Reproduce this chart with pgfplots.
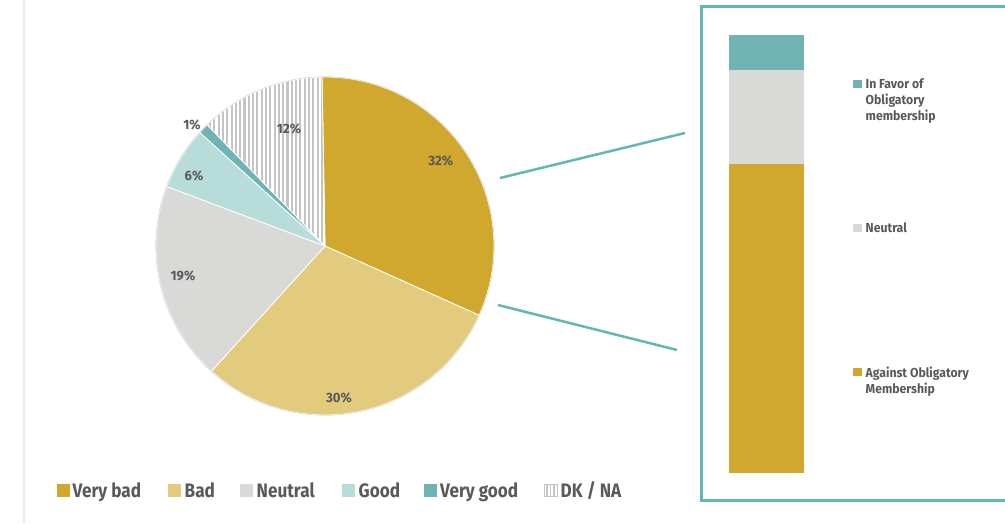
\documentclass[border=0pt]{standalone}
\usepackage{pgfplots}
\pgfplotsset{compat=1.18}
\usepackage{fontspec}
\setmainfont{Fira Sans}
\newfontfamily\fpie{Fira Sans}[FakeStretch=0.97]
\newfontfamily\fleg{Fira Sans}[FakeStretch=0.88]
\newfontfamily\fright{Fira Sans}[FakeStretch=0.94]
\definecolor{cVB}{RGB}{208,168,45}
\definecolor{cB}{RGB}{227,203,126}
\definecolor{cN}{RGB}{217,217,216}
\definecolor{cG}{RGB}{184,220,218}
\definecolor{cVG}{RGB}{111,180,178}
\definecolor{cTeal}{RGB}{97,184,179}
\definecolor{cTxt}{RGB}{89,89,89}
\definecolor{cStripe}{RGB}{196,196,196}
\definecolor{cLeft}{RGB}{235,235,235}
\tikzset{
  slVB/.style={fill=cVB},
  slB/.style={fill=cB},
  slN/.style={fill=cN},
  slG/.style={fill=cG},
  slVG/.style={fill=cVG},
  lbl/.style={text=cTxt,font=\fpie\fontsize{13.5pt}{15pt}\selectfont\bfseries,inner sep=0pt},
  leg/.style={text=cTxt,font=\fleg\fontsize{19.5pt}{22pt}\selectfont\bfseries,inner sep=0pt},
  legr/.style={text=cTxt,font=\fright\fontsize{13pt}{16pt}\selectfont\bfseries,inner sep=0pt},
}
\def\cur{91}
\newcommand\slice[2]{%
  \pgfmathsetmacro\nxt{\cur-3.6*#1}%
  \edef\tmp{\noexpand\path[#2,draw=white,line width=0.8pt] (axis cs:325,277) -- ++(\cur:169pt) arc[start angle=\cur,end angle=\nxt,radius=169pt] -- cycle;}%
  \tmp
  \global\let\cur\nxt}
\newcommand\stripeslice[1]{%
  \pgfmathsetmacro\nxt{\cur-3.6*#1}%
  \edef\tmp{\noexpand\fill[white] (axis cs:325,277) -- ++(\cur:169pt) arc[start angle=\cur,end angle=\nxt,radius=169pt] -- cycle;
    \noexpand\begin{scope}
    \noexpand\clip (axis cs:325,277) -- ++(\cur:169pt) arc[start angle=\cur,end angle=\nxt,radius=169pt] -- cycle;
    \noexpand\draw[cStripe,line width=2.1pt] \noexpand\foreach \noexpand\xx in {158.5,162.8,...,335}{(axis cs:\noexpand\xx,100) -- (axis cs:\noexpand\xx,460)};
    \noexpand\end{scope}
    \noexpand\draw[white,line width=0.8pt] (axis cs:325,277) -- ++(\cur:169pt) arc[start angle=\cur,end angle=\nxt,radius=169pt] -- cycle;}%
  \tmp
  \global\let\cur\nxt}
\begin{document}
\begin{tikzpicture}
\begin{axis}[at={(0pt,0pt)},anchor=origin,x=1pt,y=1pt,xmin=0,xmax=1005,ymin=0,ymax=523,hide axis,clip=false]
% left rule
\draw[cLeft,line width=2pt] (axis cs:24,0) -- (axis cs:24,523);
% pie: Very bad, Bad, Neutral, Good, Very good, DK/NA (percent)
\slice{32}{slVB}
\slice{30}{slB}
\slice{19}{slN}
\slice{6}{slG}
\slice{1}{slVG}
\stripeslice{12}
\draw[cN,line width=0.6pt] (axis cs:325,277) circle[radius=169.3pt];
% pie labels
\node[lbl] at (axis cs:440.8,361.8) {32\%};
\node[lbl] at (axis cs:339,125) {30\%};
\node[lbl] at (axis cs:183,247) {19\%};
\node[lbl] at (axis cs:194,347) {6\%};
\node[lbl] at (axis cs:192,398) {1\%};
\node[lbl] at (axis cs:289,394) {12\%};
% connectors and box
\draw[cTeal,line width=2.5pt] (axis cs:500,345) -- (axis cs:685,390);
\draw[cTeal,line width=2.5pt] (axis cs:498,218) -- (axis cs:677,173);
\draw[cTeal,line width=3pt] (axis cs:701,23) rectangle (axis cs:1015,516);
% right legend
\fill[cVG] (axis cs:853,434.5) rectangle (axis cs:862,443);
\node[legr,anchor=base west] at (axis cs:865.5,434) {In Favor of};
\node[legr,anchor=base west] at (axis cs:865.5,418) {Obligatory};
\node[legr,anchor=base west] at (axis cs:865.5,402) {membership};
\fill[cN] (axis cs:853,290.5) rectangle (axis cs:862,299);
\node[legr,anchor=base west] at (axis cs:865.5,290) {Neutral};
\fill[cVB] (axis cs:853,147) rectangle (axis cs:862,155.5);
\node[legr,anchor=base west] at (axis cs:865.5,146) {Against Obligatory};
\node[legr,anchor=base west] at (axis cs:865.5,130) {Membership};
% bottom legend
\fill[cVB] (axis cs:57,26.3) rectangle (axis cs:69.5,38.7);
\node[leg,anchor=base west] at (axis cs:72.5,25.3) {Very bad};
\fill[cB] (axis cs:168,26.3) rectangle (axis cs:180.5,38.7);
\node[leg,anchor=base west] at (axis cs:184.5,25.3) {Bad};
\fill[cN] (axis cs:240,26.3) rectangle (axis cs:252.5,38.7);
\node[leg,anchor=base west] at (axis cs:256.5,25.3) {Neutral};
\fill[cG] (axis cs:342,26.3) rectangle (axis cs:354.5,38.7);
\node[leg,anchor=base west] at (axis cs:358.5,25.3) {Good};
\fill[cVG] (axis cs:424,26.3) rectangle (axis cs:436.5,38.7);
\node[leg,anchor=base west] at (axis cs:440,25.3) {Very good};
\fill[white] (axis cs:544,26.3) rectangle (axis cs:557,38.7);
\draw[cStripe,line width=1.6pt] (axis cs:547.2,26.3) -- (axis cs:547.2,38.7) (axis cs:550.5,26.3) -- (axis cs:550.5,38.7) (axis cs:553.8,26.3) -- (axis cs:553.8,38.7);
\draw[cStripe,line width=1pt] (axis cs:544,26.3) rectangle (axis cs:557,38.7);
\node[leg,anchor=base west] at (axis cs:560.5,25.3) {DK / NA};
\end{axis}
% stacked bar: Against, Neutral, In favor (percent)
\begin{axis}[at={(729pt,50pt)},anchor=south west,width=75pt,height=438pt,scale only axis,hide axis,
  xmin=-0.5,xmax=0.5,ymin=0,ymax=100,ybar stacked,bar width=75pt,bar shift=0pt]
\addplot[fill=cVB,draw=none] coordinates {(0,70.5)};
\addplot[fill=cN,draw=none] coordinates {(0,21.5)};
\addplot[fill=cVG,draw=none] coordinates {(0,8)};
\end{axis}
\pgfresetboundingbox
\useasboundingbox (0,0) rectangle (1005pt,523pt);
\end{tikzpicture}
\end{document}
